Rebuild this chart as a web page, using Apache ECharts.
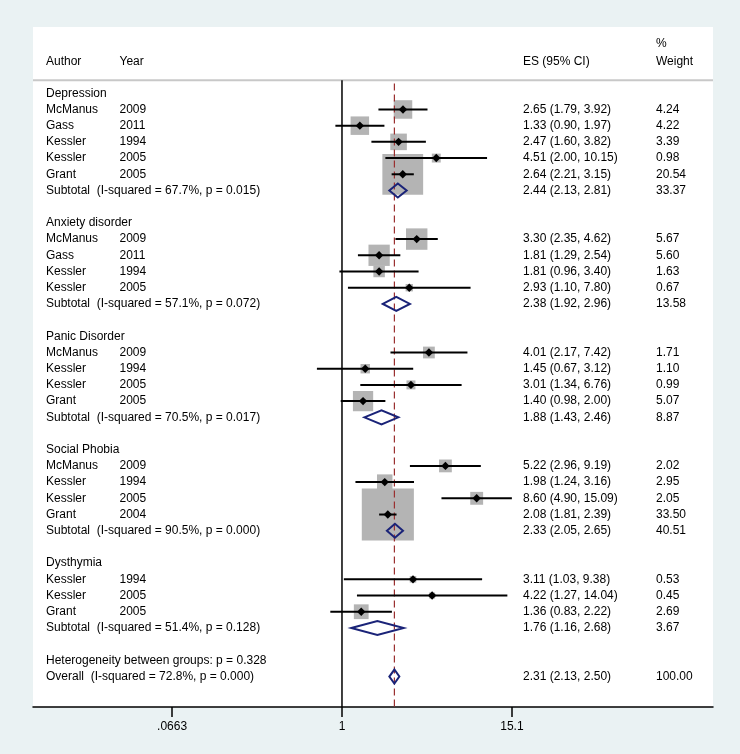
<!DOCTYPE html>
<html><head><meta charset="utf-8">
<script src="https://cdn.jsdelivr.net/npm/echarts@6/dist/echarts.min.js"></script>
<style>html,body{margin:0;padding:0;background:#EAF2F3}#c{width:740px;height:754px}</style>
</head><body><div id="c"></div>
<script>
// ---------------- data ----------------
var groups = ['Depression','Anxiety disorder','Panic Disorder','Social Phobia','Dysthymia'];
var studyGroup = [0,0,0,0,0, 1,1,1,1, 2,2,2,2, 3,3,3,3, 4,4,4];
var studyAuthor = ['McManus','Gass','Kessler','Kessler','Grant',
  'McManus','Gass','Kessler','Kessler',
  'McManus','Kessler','Kessler','Grant',
  'McManus','Kessler','Kessler','Grant',
  'Kessler','Kessler','Grant'];
var studyYear = ['2009','2011','1994','2005','2005',
  '2009','2011','1994','2005',
  '2009','1994','2005','2005',
  '2009','1994','2005','2004',
  '1994','2005','2005'];
var studyES = [2.65,1.33,2.47,4.51,2.64, 3.30,1.81,1.81,2.93, 4.01,1.45,3.01,1.40, 5.22,1.98,8.60,2.08, 3.11,4.22,1.36];
var studyLo = [1.79,0.90,1.60,2.00,2.21, 2.35,1.29,0.96,1.10, 2.17,0.67,1.34,0.98, 2.96,1.24,4.90,1.81, 1.03,1.27,0.83];
var studyHi = [3.92,1.97,3.82,10.15,3.15, 4.62,2.54,3.40,7.80, 7.42,3.12,6.76,2.00, 9.19,3.16,15.09,2.39, 9.38,14.04,2.22];
var studyW  = [4.24,4.22,3.39,0.98,20.54, 5.67,5.60,1.63,0.67, 1.71,1.10,0.99,5.07, 2.02,2.95,2.05,33.50, 0.53,0.45,2.69];
var subI2 = ['67.7','57.1','70.5','90.5','51.4'];
var subP  = ['0.015','0.072','0.017','0.000','0.128'];
var subES = [2.44,2.38,1.88,2.33,1.76];
var subLo = [2.13,1.92,1.43,2.05,1.16];
var subHi = [2.81,2.96,2.46,2.65,2.68];
var subW  = [33.37,13.58,8.87,40.51,3.67];
var hetP = '0.328';
var overallI2 = '72.8', overallP = '0.000';
var overallES = 2.31, overallLo = 2.13, overallHi = 2.50, overallW = 100.00;
var tickValues = [0.0663, 1, 15.1];
var tickLabels = ['.0663', '1', '15.1'];
var headers = {author:'Author', year:'Year', es:'ES (95% CI)', pct:'%', weight:'Weight'};

// ---------------- layout ----------------
var LN = Math.log;
var FONT = '"Liberation Sans", Arial, sans-serif';
var COL_AUTHOR = 46, COL_YEAR = 119.5, COL_ES = 523, COL_W = 656; // pixel x of text columns
function f2(v){ return v.toFixed(2); }
function ciText(e,l,h){ return f2(e)+' ('+f2(l)+', '+f2(h)+')'; }

var texts = [];   // [row, col, text]
var boxes = [];   // [lnES, row, weight]
var cis = [];     // [lnLo, lnHi, row]
var pts = [];     // [lnES, row]
var dias = [];    // [lnLo, lnES, lnHi, row]
var row = 0;
for (var g = 0; g < groups.length; g++) {
  texts.push([row, COL_AUTHOR, groups[g]]); row++;
  for (var i = 0; i < studyES.length; i++) {
    if (studyGroup[i] !== g) continue;
    texts.push([row, COL_AUTHOR, studyAuthor[i]]);
    texts.push([row, COL_YEAR, studyYear[i]]);
    texts.push([row, COL_ES, ciText(studyES[i], studyLo[i], studyHi[i])]);
    texts.push([row, COL_W, f2(studyW[i])]);
    boxes.push([LN(studyES[i]), row, studyW[i]]);
    cis.push([LN(studyLo[i]), LN(studyHi[i]), row]);
    pts.push([LN(studyES[i]), row]);
    row++;
  }
  texts.push([row, COL_AUTHOR, 'Subtotal  (I-squared = ' + subI2[g] + '%, p = ' + subP[g] + ')']);
  texts.push([row, COL_ES, ciText(subES[g], subLo[g], subHi[g])]);
  texts.push([row, COL_W, f2(subW[g])]);
  dias.push([LN(subLo[g]), LN(subES[g]), LN(subHi[g]), row]);
  row++;
  row++; // blank
}
texts.push([row, COL_AUTHOR, 'Heterogeneity between groups: p = ' + hetP]); row++;
texts.push([row, COL_AUTHOR, 'Overall  (I-squared = ' + overallI2 + '%, p = ' + overallP + ')']);
texts.push([row, COL_ES, ciText(overallES, overallLo, overallHi)]);
texts.push([row, COL_W, f2(overallW)]);
dias.push([LN(overallLo), LN(overallES), LN(overallHi), row]);

// header rows (in row units)
texts.push([-1.95, COL_AUTHOR, headers.author]);
texts.push([-1.95, COL_YEAR, headers.year]);
texts.push([-1.95, COL_ES, headers.es]);
texts.push([-3.05, COL_W, headers.pct]);
texts.push([-1.95, COL_W, headers.weight]);

var Y_MIN = -4.09, Y_MAX = 37.88, HEADER_LINE = -0.8;

var chart = echarts.init(document.getElementById('c'));
chart.setOption({
  backgroundColor: '#EAF2F3',
  animation: false,
  grid: {left: 33, right: 27, top: 27, bottom: 47, show: true, backgroundColor: '#ffffff', borderWidth: 0},
  xAxis: {
    type: 'value', min: -4.936, max: 5.927,
    splitLine: {show: false},
    axisLine: {onZero: false, lineStyle: {color: '#000', width: 1.5}},
    axisTick: {customValues: tickValues.map(LN), length: 10, lineStyle: {color: '#000', width: 1.5}},
    axisLabel: {customValues: tickValues.map(LN), margin: 14, color: '#000', fontSize: 12, fontFamily: FONT,
      formatter: function (v) {
        for (var k = 0; k < tickValues.length; k++) if (Math.abs(LN(tickValues[k]) - v) < 1e-6) return tickLabels[k];
        return '';
      }}
  },
  yAxis: {type: 'value', min: Y_MIN, max: Y_MAX, inverse: true, show: false},
  series: [
    { // header separator line
      type: 'custom', data: [[HEADER_LINE]], z: 1, silent: true,
      renderItem: function (params, api) {
        var y = api.coord([0, api.value(0)])[1];
        return {type: 'line', shape: {x1: params.coordSys.x, y1: y, x2: params.coordSys.x + params.coordSys.width, y2: y},
          style: {stroke: '#C8C8C8', lineWidth: 2}};
      }
    },
    { // null line at 1
      type: 'custom', data: [[0, HEADER_LINE]], z: 2, silent: true,
      renderItem: function (params, api) {
        var p = api.coord([api.value(0), api.value(1)]);
        var p2 = api.coord([api.value(0), Y_MAX]);
        return {type: 'line', shape: {x1: p[0], y1: p[1], x2: p2[0], y2: p2[1]}, style: {stroke: '#000', lineWidth: 1.5}};
      }
    },
    { // boxes
      type: 'custom', data: boxes, z: 3, silent: true,
      renderItem: function (params, api) {
        var p = api.coord([api.value(0), api.value(1)]);
        var s = 9 * Math.sqrt(api.value(2));
        return {type: 'rect', shape: {x: p[0] - s / 2, y: p[1] - s / 2, width: s, height: s}, style: {fill: '#B4B4B4'}};
      }
    },
    { // overall dashed line
      type: 'custom', data: [[LN(overallES), -0.6]], z: 4, silent: true,
      renderItem: function (params, api) {
        var p = api.coord([api.value(0), api.value(1)]);
        var p2 = api.coord([api.value(0), Y_MAX]);
        return {type: 'line', shape: {x1: p[0], y1: p[1], x2: p2[0], y2: p2[1]},
          style: {stroke: '#9A3030', lineWidth: 1.2, lineDash: [7, 4]}};
      }
    },
    { // CI lines
      type: 'custom', data: cis, z: 5, silent: true,
      renderItem: function (params, api) {
        var a = api.coord([api.value(0), api.value(2)]);
        var b = api.coord([api.value(1), api.value(2)]);
        return {type: 'line', shape: {x1: a[0], y1: a[1], x2: b[0], y2: b[1]}, style: {stroke: '#000', lineWidth: 2}};
      }
    },
    { // point estimates
      type: 'custom', data: pts, z: 6, silent: true,
      renderItem: function (params, api) {
        var p = api.coord([api.value(0), api.value(1)]);
        var r = 4.2;
        return {type: 'polygon', shape: {points: [[p[0] - r, p[1]], [p[0], p[1] - r], [p[0] + r, p[1]], [p[0], p[1] + r]]},
          style: {fill: '#000'}};
      }
    },
    { // pooled diamonds
      type: 'custom', data: dias, z: 7, silent: true,
      renderItem: function (params, api) {
        var l = api.coord([api.value(0), api.value(3)]);
        var m = api.coord([api.value(1), api.value(3)]);
        var h = api.coord([api.value(2), api.value(3)]);
        var hh = 7;
        return {type: 'polygon', shape: {points: [[l[0], l[1]], [m[0], m[1] - hh], [h[0], h[1]], [m[0], m[1] + hh]]},
          style: {fill: 'none', stroke: '#1A2378', lineWidth: 2}};
      }
    },
    { // text table
      type: 'custom', data: texts, z: 8, silent: true,
      renderItem: function (params, api) {
        var y = api.coord([0, api.value(0)])[1];
        return {type: 'text', x: api.value(1), y: y,
          style: {text: texts[params.dataIndex][2], fill: '#000', font: '12px ' + FONT, verticalAlign: 'middle', align: 'left'}};
      }
    }
  ]
});
</script>
</body></html>
